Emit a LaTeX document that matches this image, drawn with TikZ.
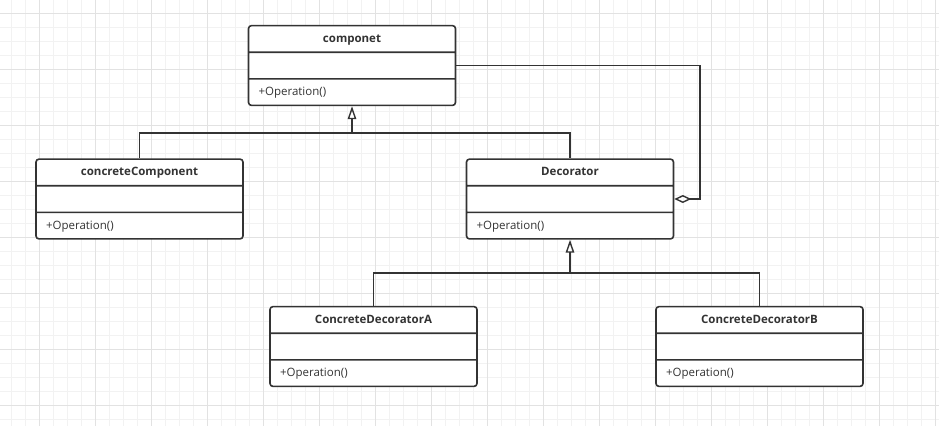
\documentclass[tikz,border=0pt]{standalone}
\usepackage{fontspec}
\setmainfont{Open Sans}
\usetikzlibrary{arrows.meta, shapes.multipart, positioning, calc}
\definecolor{gridminor}{RGB}{242, 242, 242}
\definecolor{gridmajor}{RGB}{226, 226, 226}
\definecolor{ink}{RGB}{51, 51, 51}
\newcommand{\rowstrut}{\rule[-9pt]{0pt}{25pt}}

\begin{document}
\begin{tikzpicture}[
    x=1pt, y=-1pt,
    umlclass/.style={rectangle split, rectangle split parts=3, draw=ink, line width=1.6pt,
      rounded corners=3pt, fill=white, minimum width=207pt, inner xsep=10pt, inner ysep=0pt,
      rectangle split part align={center,left,left}, text=ink,
      font=\fontsize{11.5}{12}\selectfont},
    conn/.style={draw=ink, line width=1.6pt},
    isa/.style={conn, -{Triangle[open, length=13pt, width=8.5pt, line width=1.4pt]}},
    hasa/.style={conn, {Diamond[open, length=17pt, width=8pt, line width=1.4pt]}-},
  ]
  % background grid
  \fill[white] (0,0) rectangle (939,426);
  \useasboundingbox (0,0) rectangle (939,426);
  \foreach \gx in {11.5,25.5,...,939} \draw[gridminor, line width=1pt] (\gx,0) -- (\gx,426);
  \foreach \gy in {13.5,27.5,...,426} \draw[gridminor, line width=1pt] (0,\gy) -- (939,\gy);
  \foreach \gx in {39.5,95.5,...,939} \draw[gridmajor, line width=1pt] (\gx,0) -- (\gx,426);
  \foreach \gy in {13.5,69.5,...,426} \draw[gridmajor, line width=1pt] (0,\gy) -- (939,\gy);

  % classes
  \node[umlclass] (comp) at (352,65.5)
    {\rowstrut\textbf{componet}\nodepart{two}\rowstrut\nodepart{three}\rowstrut+Operation()};
  \node[umlclass] (concomp) at (139.5,199)
    {\rowstrut\textbf{concreteComponent}\nodepart{two}\rowstrut\nodepart{three}\rowstrut+Operation()};
  \node[umlclass] (deco) at (570,199)
    {\rowstrut\textbf{Decorator}\nodepart{two}\rowstrut\nodepart{three}\rowstrut+Operation()};
  \node[umlclass] (decoa) at (373.5,346.5)
    {\rowstrut\textbf{ConcreteDecoratorA}\nodepart{two}\rowstrut\nodepart{three}\rowstrut+Operation()};
  \node[umlclass] (decob) at (759.5,346.5)
    {\rowstrut\textbf{ConcreteDecoratorB}\nodepart{two}\rowstrut\nodepart{three}\rowstrut+Operation()};

  % inheritance
  \coordinate (bus1) at (352,133);
  \coordinate (bus2) at (570,273);
  \draw[conn] (concomp.north) |- (bus1) -| (deco.north);
  \draw[isa] (bus1) -- (comp.south);
  \draw[conn] (decoa.north) |- (bus2) -| (decob.north);
  \draw[isa] (bus2) -- (deco.south);

  % aggregation
  \coordinate (aggturn) at (700,65.5);
  \draw[hasa] (deco.east) -| (aggturn) -- (comp.east);
\end{tikzpicture}
\end{document}
